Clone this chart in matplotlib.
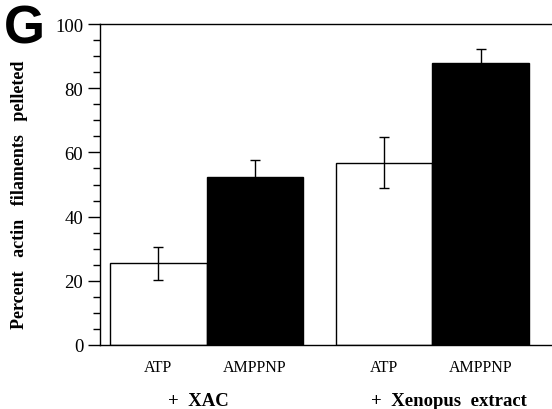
import numpy as np
import matplotlib
matplotlib.use("Agg")
import matplotlib.pyplot as plt
from matplotlib.ticker import MultipleLocator

# values (percent actin filaments pelleted)
conditions = ["ATP", "AMPPNP", "ATP", "AMPPNP"]
groups = ["+  XAC", "+  Xenopus  extract"]
pelleted = [25.4, 52.4, 56.8, 87.9]
err = [5.1, 5.3, 8.0, 4.3]
fills = ["white", "black", "white", "black"]

x = np.array([0, 1, 2.34, 3.34])
group_x = [0.42, 3.01]

plt.rcParams['font.family'] = ['Liberation Serif', 'DejaVu Serif']

fig = plt.figure(figsize=(5.52, 4.10), dpi=100)
ax = fig.add_axes([100 / 552, 64 / 410, 0.8225, 321 / 410])

ax.bar(x, pelleted, width=1.0, color=fills, edgecolor="black", linewidth=1.0, zorder=2)
ax.errorbar(x, pelleted, yerr=err, fmt="none", ecolor="black", elinewidth=1.0,
            capsize=3.5, capthick=1.0, zorder=3)

ax.set_ylim(0, 100)
ax.set_xlim(-0.604, 4.1)
ax.yaxis.set_major_locator(MultipleLocator(20))
ax.yaxis.set_minor_locator(MultipleLocator(5))
ax.tick_params(axis="y", which="major", length=9, width=1, labelsize=13.5, pad=3)
ax.tick_params(axis="y", which="minor", length=5, width=1)
ax.set_xticks(x)
ax.set_xticklabels(conditions, fontsize=11.5)
ax.tick_params(axis="x", length=0, pad=10)

ax.spines["right"].set_visible(False)
for s in ["left", "top", "bottom"]:
    ax.spines[s].set_linewidth(1.0)

for gx, g in zip(group_x, groups):
    ax.text(gx, -0.172, g, transform=ax.get_xaxis_transform(), ha="center",
            va="center", fontsize=13.5, fontweight="bold")

fig.text(20 / 552, 0.524, "Percent   actin   filaments   pelleted", rotation=90,
         ha="center", va="center", fontsize=13, fontweight="bold")
fig.text(4 / 552, 1 - 5 / 410, "G", ha="left", va="top", fontsize=38,
         fontweight="bold", family=["Liberation Sans", "DejaVu Sans"])

fig.savefig("out.png", dpi=100)
